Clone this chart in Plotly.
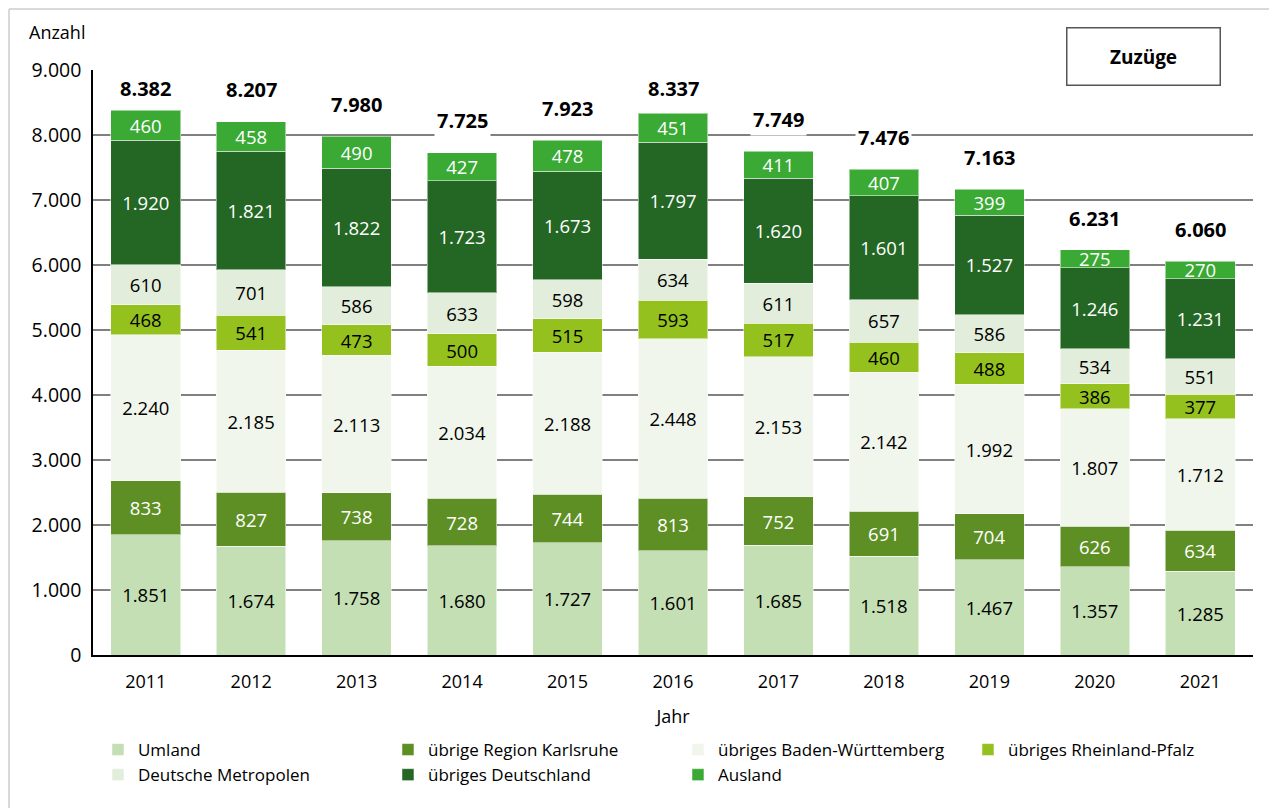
import plotly.graph_objects as go

# data (Zuzüge nach Herkunft)
years = ['2011', '2012', '2013', '2014', '2015', '2016', '2017', '2018', '2019', '2020', '2021']

umland = [1851, 1674, 1758, 1680, 1727, 1601, 1685, 1518, 1467, 1357, 1285]
region_karlsruhe = [833, 827, 738, 728, 744, 813, 752, 691, 704, 626, 634]
baden_wuerttemberg = [2240, 2185, 2113, 2034, 2188, 2448, 2153, 2142, 1992, 1807, 1712]
rheinland_pfalz = [468, 541, 473, 500, 515, 593, 517, 460, 488, 386, 377]
metropolen = [610, 701, 586, 633, 598, 634, 611, 657, 586, 534, 551]
deutschland = [1920, 1821, 1822, 1723, 1673, 1797, 1620, 1601, 1527, 1246, 1231]
ausland = [460, 458, 490, 427, 478, 451, 411, 407, 399, 275, 270]

totals = [8382, 8207, 7980, 7725, 7923, 8337, 7749, 7476, 7163, 6231, 6060]

series = [
    ('Umland', umland, '#c4dfb3', 'black'),
    ('übrige Region Karlsruhe', region_karlsruhe, '#5e8f24', 'white'),
    ('übriges Baden-Württemberg', baden_wuerttemberg, '#f1f6ec', 'black'),
    ('übriges Rheinland-Pfalz', rheinland_pfalz, '#95c11f', 'black'),
    ('Deutsche Metropolen', metropolen, '#e2eedb', 'black'),
    ('übriges Deutschland', deutschland, '#246724', 'white'),
    ('Ausland', ausland, '#3aaa35', 'white'),
]

FONT = 'Open Sans'
W, H = 1269, 800          # page has an 8px body margin, keep it inside the window
ML, MR, MT, MB = 85, 24, 62, 153
PW, PH = W - ML - MR, H - MT - MB


def fmt(v):
    return f'{v:,}'.replace(',', '.')


fig = go.Figure()
for name, vals, col, txtcol in series:
    fig.add_trace(go.Bar(
        x=years, y=vals, name=name,
        marker=dict(color=col, line=dict(color='rgba(255,255,255,0.5)', width=1)),
        text=[fmt(v) for v in vals], textposition='inside', insidetextanchor='middle',
        textangle=0, constraintext='none',
        textfont=dict(family=FONT, size=18.5, color=txtcol),
        hoverinfo='skip',
    ))

# totals above the bars (pushed down when they would hit the top)
for i, tot in enumerate(totals):
    fig.add_annotation(x=i, y=min(tot + 492, 8708), text=f'<b>{fmt(tot)}</b>', showarrow=False,
                       yanchor='middle', bgcolor='white', borderpad=2,
                       font=dict(family=FONT, size=20, color='black'))

# "Zuzüge" box
fig.add_annotation(xref='paper', yref='paper', x=0.9056, y=1.023,
                   xanchor='center', yanchor='middle',
                   text='<b>Zuzüge</b>', showarrow=False,
                   width=150, height=54, bgcolor='white',
                   bordercolor='#555555', borderwidth=1.5,
                   font=dict(family=FONT, size=19, color='black'))

fig.add_annotation(xref='paper', yref='paper', x=(19 - ML) / PW, y=1 + (MT - 24) / PH,
                   xanchor='left', yanchor='middle', text='Anzahl', showarrow=False,
                   font=dict(family=FONT, size=18, color='black'))

# outer frame (top and left)
fx, fy = -(ML - 1) / PW, 1 + (MT - 1) / PH
fig.add_shape(type='line', xref='paper', yref='paper', x0=fx, x1=1 + MR / PW, y0=fy, y1=fy,
              line=dict(color='#cccccc', width=1.5))
fig.add_shape(type='line', xref='paper', yref='paper', x0=fx, x1=fx, y0=fy, y1=-MB / PH,
              line=dict(color='#cccccc', width=1.5))

fig.update_layout(
    width=W, height=H,
    barmode='stack', bargap=0.34,
    separators=',.',
    plot_bgcolor='white', paper_bgcolor='white',
    margin=dict(l=ML, r=MR, t=MT, b=MB, autoexpand=False),
    font=dict(family=FONT, size=18, color='black'),
    xaxis=dict(type='category', title=dict(text='Jahr', font=dict(size=18), standoff=18),
               showline=True, linecolor='black', linewidth=1.5,
               ticks='', ticklabelstandoff=10, tickfont=dict(size=18)),
    yaxis=dict(range=[0, 9000], dtick=1000, tickformat=',d',
               showgrid=True, gridcolor='#808080', gridwidth=1.5,
               showline=True, linecolor='black', linewidth=1.5,
               zeroline=False, ticks='', ticklabelstandoff=6, tickfont=dict(size=19.5)),
    legend=dict(orientation='h', xref='container', yref='container',
                x=0.0709, xanchor='left', y=0.095, yanchor='top',
                entrywidth=245, entrywidthmode='pixels', traceorder='normal',
                font=dict(family=FONT, size=17), itemwidth=30, tracegroupgap=0),
)

fig.write_html('out.html')
